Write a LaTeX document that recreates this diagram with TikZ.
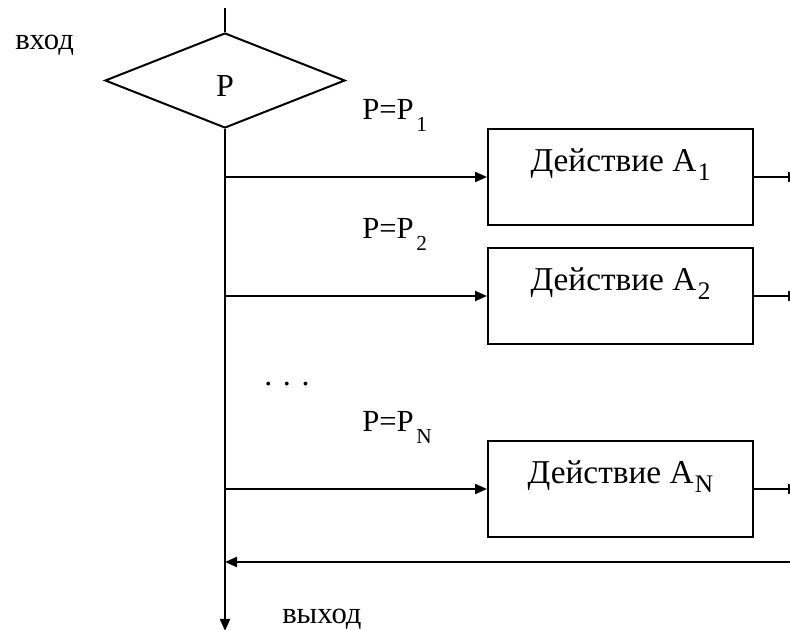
\documentclass[tikz,border=0pt]{standalone}
\usepackage{fontspec}
\setmainfont{Liberation Serif}
\usetikzlibrary{shapes.geometric,arrows.meta}
\newcommand{\lsub}[1]{\kern2pt\raisebox{-9pt}{\fontsize{16}{16}\selectfont #1}}
\newcommand{\bsub}[1]{\kern1pt\raisebox{-6.5pt}{\fontsize{19}{19}\selectfont #1}}
\tikzset{
  ln/.style={line width=1.5pt},
  arr/.style={line width=1.5pt,-{Triangle[length=9pt,width=7.5pt]}},
  dia/.style={draw,diamond,line width=1.5pt,inner sep=0pt,minimum width=180pt,minimum height=71.25pt},
  box/.style={draw,rectangle,line width=1.5pt,inner sep=0pt,minimum width=198.75pt,minimum height=72pt},
  btxt/.style={font=\fontsize{25}{25}\selectfont,inner sep=0pt,anchor=base},
  lbl/.style={font=\fontsize{23}{23}\selectfont,inner sep=0pt,anchor=base west},
  io/.style={font=\fontsize{23}{23}\selectfont,inner sep=0pt,anchor=base west},
}
\begin{document}
\begin{tikzpicture}[x=0.75pt,y=-0.75pt]
\useasboundingbox (0,0) rectangle (790,630);
\clip (0,0) rectangle (790,630);
% decision
\coordinate (top) at (225,8);
\node[dia] (d) at (225,80.5) {};
\node[font=\fontsize{24}{24}\selectfont,inner sep=0pt,anchor=base] (pd) at (225,97) {P};
\node[io] (in) at (15,50) {вход};
% boxes
\node[box] (b1) at (620.5,177) {};
\node[box] (b2) at (620.5,296) {};
\node[box] (bn) at (620.5,489) {};
\node[btxt] (t1) at ([yshift=-33pt]b1.north) {Действие A\bsub{1}};
\node[btxt] (t2) at ([yshift=-33pt]b2.north) {Действие A\bsub{2}};
\node[btxt] (tn) at ([yshift=-33pt]bn.north) {Действие A\bsub{N}};
% labels
\node[lbl] (l1) at (362,120) {P=P\lsub{1}};
\node[lbl] (l2) at (362,239) {P=P\lsub{2}};
\node[lbl] (ln) at (362,432) {P=P\lsub{N}};
\node[font=\fontsize{24}{24}\selectfont,inner sep=0pt,anchor=base] (dots) at (287,386) {. . .};
\node[io] (out) at (282,624) {выход};
% junctions
\coordinate (j1) at (225,177);
\coordinate (j2) at (225,296);
\coordinate (jn) at (225,489);
\coordinate (jr) at (225,562);
\coordinate (bot) at (225,631);
\coordinate (e1) at (800,177);
\coordinate (e2) at (800,296);
\coordinate (en) at (800,489);
\coordinate (rs) at (792,562);
% connectors
\draw[ln] (top) -- (d.north);
\draw[arr] (d.south) -- (bot);
\draw[arr] (j1) -- (b1.west);
\draw[arr] (j2) -- (b2.west);
\draw[arr] (jn) -- (bn.west);
\draw[arr] (b1.east) -- (e1);
\draw[arr] (b2.east) -- (e2);
\draw[arr] (bn.east) -- (en);
\draw[arr] (rs) -- (jr);
\end{tikzpicture}
\end{document}
